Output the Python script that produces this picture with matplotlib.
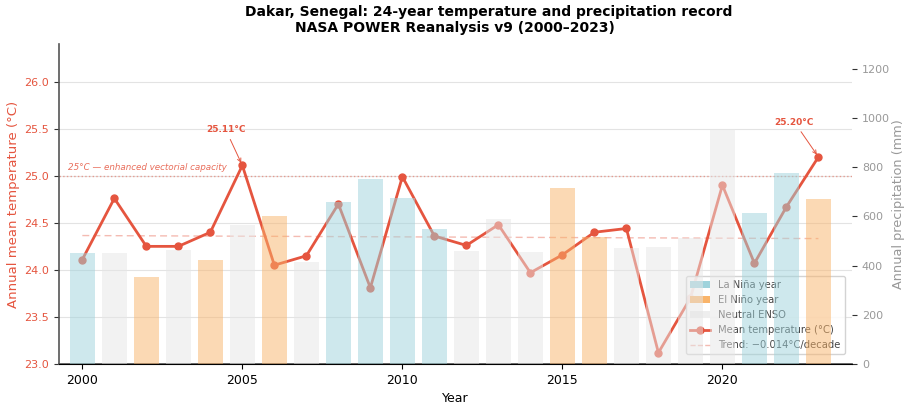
import matplotlib.pyplot as plt
from matplotlib.patches import Patch
from matplotlib.lines import Line2D

years = list(range(2000, 2024))
temp_c = [24.11, 24.76, 24.25, 24.25, 24.40, 25.11, 24.05, 24.15, 24.70, 23.81,
          24.99, 24.36, 24.26, 24.48, 23.97, 24.16, 24.40, 24.44, 23.12, 23.70,
          24.90, 24.07, 24.67, 25.20]
precip_mm = [450, 453, 354, 464, 422, 565, 603, 416, 659, 753,
             675, 549, 461, 589, 457, 716, 517, 470, 476, 511,
             956, 613, 776, 671]
enso = ["La Niña", "Neutral", "El Niño", "Neutral", "El Niño", "Neutral", "El Niño", "Neutral",
        "La Niña", "La Niña", "La Niña", "La Niña", "Neutral", "Neutral", "Neutral", "El Niño",
        "El Niño", "Neutral", "Neutral", "Neutral", "Neutral", "La Niña", "La Niña", "El Niño"]
trend_start = 24.365   # fitted value at 2000
trend_slope = -0.0014  # °C per year
threshold = 25.0

RED = "#e5553f"
enso_colors = {"La Niña": "#9fd3dc", "El Niño": "#f9b46a", "Neutral": "#e6e6e6"}

fig = plt.figure(figsize=(9.1, 4.04), dpi=100)
ax1 = fig.add_axes([0.0648, 0.099, 0.8715, 0.792])
ax2 = ax1.twinx()

# temperature on the main axis
ax1.plot(years, temp_c, color=RED, lw=2, marker="o", ms=5, zorder=3)
trend = [trend_start + trend_slope * (y - years[0]) for y in years]
ax1.plot(years, trend, color=RED, lw=1, ls="--", alpha=0.4, dashes=(5, 3))
ax1.axhline(threshold, color=RED, lw=1, ls=":", alpha=0.5)
ax1.text(1999.56, threshold + 0.04, "25°C — enhanced vectorial capacity", fontsize=6.3,
         style="italic", color=RED, alpha=0.85, va="bottom")

ax1.annotate("25.11°C", xy=(2005, 25.11), xytext=(2004.48, 25.49), ha="center", va="center",
             fontsize=6.5, fontweight="bold", color=RED,
             arrowprops=dict(arrowstyle="->", color=RED, lw=0.7))
ax1.annotate("25.20°C", xy=(2023, 25.20), xytext=(2022.25, 25.57), ha="center", va="center",
             fontsize=6.5, fontweight="bold", color=RED,
             arrowprops=dict(arrowstyle="->", color=RED, lw=0.7))

ax1.set_xlim(1999.27, 2024.05)
ax1.set_ylim(23.0, 26.4)
ax1.set_yticks([23.0, 23.5, 24.0, 24.5, 25.0, 25.5, 26.0])
ax1.set_xticks([2000, 2005, 2010, 2015, 2020])
ax1.grid(axis="y", color="#e3e3e3", lw=0.8)
ax1.set_axisbelow(True)
ax1.tick_params(axis="y", colors="#333333", labelcolor=RED, labelsize=8)
ax1.tick_params(axis="x", labelsize=9)
ax1.set_ylabel("Annual mean temperature (°C)", color=RED, fontsize=9.5, labelpad=3)
ax1.set_xlabel("Year", fontsize=9)
for s in ["top", "right"]:
    ax1.spines[s].set_visible(False)
ax1.spines["left"].set_color("#555555")
ax1.spines["left"].set_linewidth(1.2)
ax1.spines["bottom"].set_color("#555555")
ax1.spines["bottom"].set_linewidth(1.2)

handles = [
    Patch(facecolor=enso_colors["La Niña"], label="La Niña year"),
    Patch(facecolor=enso_colors["El Niño"], label="El Niño year"),
    Patch(facecolor="#eeeeee", label="Neutral ENSO"),
    Line2D([0], [0], color=RED, lw=2, marker="o", ms=5, label="Mean temperature (°C)"),
    Line2D([0], [0], color=RED, lw=1, ls="--", alpha=0.4, label="Trend: −0.014°C/decade"),
]
ax1.legend(handles=handles, loc="lower right", fontsize=7.2, framealpha=0.85,
           bbox_to_anchor=(0.997, 0.015), labelcolor="#444444")

# precipitation bars on the twin axis, drawn over the line
bar_colors = [enso_colors[e] for e in enso]
ax2.bar(years, precip_mm, width=0.8, color=bar_colors, alpha=0.5, zorder=1)
ax2.set_ylim(0, 1300)
ax2.set_yticks([0, 200, 400, 600, 800, 1000, 1200])
ax2.tick_params(axis="y", colors="#333333", labelcolor="#999999", labelsize=8)
ax2.set_ylabel("Annual precipitation (mm)", color="#999999", fontsize=9.3)
ax2.yaxis.set_label_coords(1.05, 0.5)
for s in ["top", "right", "left"]:
    ax2.spines[s].set_visible(False)

fig.text(0.537, 0.97, "Dakar, Senegal: 24-year temperature and precipitation record",
         ha="center", va="center", fontsize=10, fontweight="bold")
fig.text(0.5, 0.93, "NASA POWER Reanalysis v9 (2000–2023)",
         ha="center", va="center", fontsize=10, fontweight="bold")

fig.savefig("out.png", dpi=100)
